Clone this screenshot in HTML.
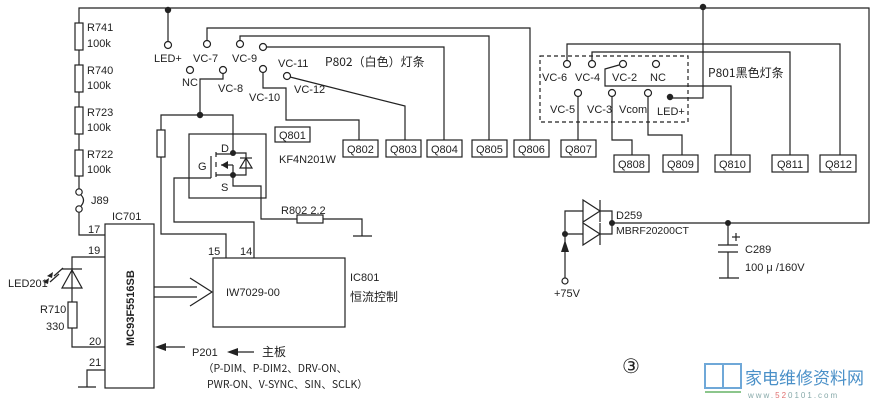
<!DOCTYPE html>
<html><head><meta charset="utf-8"><style>
html,body{margin:0;padding:0;background:#fff}
svg{display:block}
text{font-family:"Liberation Sans","Noto Sans CJK SC",sans-serif;font-size:11px;fill:#222}
.c{font-family:"Noto Sans CJK SC","Liberation Sans",sans-serif}
</style></head><body>
<svg width="875" height="401" viewBox="0 0 875 401" xmlns="http://www.w3.org/2000/svg">
<g fill="none" stroke="#222" stroke-width="1.2">
<polyline points="79,23 79,8 869,8 869,223 612,223"/>
<line x1="168" y1="10" x2="168" y2="41"/>
<rect x="75" y="23" width="8" height="27"/>
<line x1="79" y1="50" x2="79" y2="65"/>
<rect x="75" y="65" width="8" height="27"/>
<line x1="79" y1="92" x2="79" y2="107"/>
<rect x="75" y="107" width="8" height="27"/>
<line x1="79" y1="134" x2="79" y2="150"/>
<rect x="75" y="150" width="8" height="26"/>
<line x1="79" y1="176" x2="79" y2="189"/>
<circle cx="79" cy="192" r="3.2"/><circle cx="79" cy="209" r="3.2"/>
<path d="M81,195 Q86,200 81,206"/>
<polyline points="79,212 79,235 105,235"/>
<rect x="105" y="224" width="49" height="164"/>
<polyline points="105,257 72,257 72,302"/>
<polyline points="72,328 72,347 105,347"/>
<rect x="68" y="302" width="9" height="26"/>
<polygon points="62,288 82,288 72,270"/>
<line x1="62" y1="269" x2="82" y2="269"/>
<polyline points="105,370 87,370 87,387"/>
<line x1="78" y1="387" x2="96" y2="387"/>
<line x1="54" y1="276" x2="63" y2="268"/><line x1="50" y1="282" x2="59" y2="274"/>
<rect x="213" y="258" width="132" height="69"/>
<polyline points="226,258 226,234 161,234 161,157"/>
<rect x="157" y="130" width="8" height="27"/>
<polyline points="161,130 161,115 233,115 233,153"/>
<polyline points="200,115 200,79 223,79 223,74"/>
<polyline points="254,258 254,222 174,222 174,178 211,178"/>
<line x1="154" y1="287" x2="197" y2="287"/><line x1="154" y1="297" x2="197" y2="297"/>
<polyline points="190,278 212,292 190,306"/>
<rect x="189" y="134" width="77" height="64"/>
<line x1="211" y1="156" x2="211" y2="178"/>
<line x1="216" y1="152" x2="216" y2="157"/><line x1="216" y1="162" x2="216" y2="167"/><line x1="216" y1="172" x2="216" y2="177"/>
<line x1="216" y1="154" x2="233" y2="154"/><line x1="216" y1="175" x2="233" y2="175"/>
<line x1="221" y1="165" x2="233" y2="165"/>
<line x1="233" y1="165" x2="233" y2="175"/>
<polyline points="233,153 246,153 246,175 233,175"/>
<polygon points="240,168 252,168 246,158"/><line x1="240" y1="158" x2="252" y2="158"/>
<polyline points="233,175 233,186 261,186 261,219 297,219"/>
<rect x="297" y="215" width="26" height="8"/>
<polyline points="323,219 362,219 362,236"/>
<line x1="353" y1="236" x2="372" y2="236"/>
<circle cx="168" cy="45" r="3.5"/><circle cx="207" cy="44" r="3.5"/><circle cx="240" cy="44" r="3.5"/><circle cx="263" cy="47" r="3.5"/>
<circle cx="190" cy="70" r="3.5"/><circle cx="223" cy="70" r="3.5"/><circle cx="263" cy="69" r="3.5"/><circle cx="287" cy="76" r="3.5"/>
<polyline points="207,40 207,28 530,28 530,140"/>
<polyline points="240,40 240,36 489,36 489,140"/>
<polyline points="267,47 444,47 444,140"/>
<polyline points="263,73 263,88 286,88 286,120 359,120 359,140"/>
<polyline points="290,77 405,106 405,140"/>
<rect x="275" y="127" width="35" height="15"/>
<rect x="343" y="140" width="35" height="17"/><rect x="386" y="140" width="35" height="17"/><rect x="427" y="140" width="35" height="17"/>
<rect x="472" y="140" width="35" height="17"/><rect x="514" y="140" width="35" height="17"/><rect x="561" y="140" width="35" height="17"/>
<rect x="614" y="155" width="35" height="17"/><rect x="663" y="155" width="35" height="17"/><rect x="715" y="155" width="35" height="17"/>
<rect x="772" y="155" width="36" height="17"/><rect x="820" y="155" width="36" height="17"/>
<rect x="540" y="56" width="148" height="66" stroke-dasharray="4,3"/>
<circle cx="567" cy="64" r="3.5"/><circle cx="592" cy="64" r="3.5"/><circle cx="623" cy="64" r="3.5"/><circle cx="656" cy="64" r="3.5"/>
<circle cx="578" cy="93" r="3.5"/><circle cx="612" cy="93" r="3.5"/><circle cx="648" cy="93" r="3.5"/>
<polyline points="567,60 567,44 840,44 840,155"/>
<polyline points="592,60 592,52 790,52 790,155"/>
<polyline points="619,65 605,69 605,86 731,86 731,155"/>
<line x1="578" y1="97" x2="578" y2="140"/>
<polyline points="612,97 612,140 632,140 632,155"/>
<polyline points="648,97 648,135 682,135 682,155"/>
<polyline points="670,98 703,98 703,7"/>
<!-- D259 -->
<polygon points="583,200 583,222 600,211"/><line x1="600" y1="200" x2="600" y2="222"/>
<polygon points="583,223 583,245 600,234"/><line x1="600" y1="223" x2="600" y2="245"/>
<polyline points="583,211 565,211 565,278"/><line x1="565" y1="234" x2="583" y2="234"/>
<polyline points="600,211 612,211 612,234 600,234"/>
<circle cx="565" cy="281" r="3"/>
<line x1="728" y1="223" x2="728" y2="245"/>
<line x1="718" y1="245" x2="738" y2="245"/><line x1="718" y1="252" x2="738" y2="252"/>
<line x1="728" y1="252" x2="728" y2="278"/><line x1="719" y1="278" x2="739" y2="278"/>
<line x1="736" y1="233" x2="736" y2="241"/><line x1="732" y1="237" x2="740" y2="237"/>
<line x1="162" y1="347" x2="185" y2="347"/>
<line x1="235" y1="352" x2="254" y2="352"/>
</g>
<g fill="#222">
<circle cx="168" cy="10" r="3.2"/><circle cx="703" cy="7" r="3.2"/><circle cx="200" cy="115" r="3.2"/>
<circle cx="233" cy="153" r="3"/><circle cx="233" cy="175" r="3"/>
<circle cx="670" cy="97" r="3.2"/><circle cx="612" cy="223" r="3"/><circle cx="565" cy="234" r="3"/><circle cx="728" cy="223" r="3"/>
<polygon points="221,165 228,161 228,169"/>
<polygon points="565,240 561,252 569,252"/>
<polygon points="155,347 166,343 166,351"/>
<polygon points="227,352 238,348 238,356"/>
<polygon points="47,276 53,272 52,278"/><polygon points="43,282 49,278 48,284"/>
</g>
<text x="87" y="31">R741</text><text x="87" y="47">100k</text>
<text x="87" y="74">R740</text><text x="87" y="89">100k</text>
<text x="87" y="116">R723</text><text x="87" y="131">100k</text>
<text x="87" y="158">R722</text><text x="87" y="173">100k</text>
<text x="91" y="204">J89</text>
<text x="112" y="220">IC701</text>
<text x="88" y="233">17</text><text x="88" y="254">19</text><text x="89" y="345">20</text><text x="89" y="366">21</text>
<text x="8" y="287">LED201</text><text x="40" y="313">R710</text><text x="46" y="330">330</text>
<text transform="translate(134,346) rotate(-90)" style="font-weight:bold;font-size:11px">MC93F5516SB</text>
<text x="208" y="255">15</text><text x="240" y="255">14</text>
<text x="226" y="296">IW7029-00</text>
<text x="350" y="281">IC801</text><text x="350" y="301" class="c" style="font-size:12px">恒流控制</text>
<text x="192" y="356">P201</text><text x="262" y="356" class="c" style="font-size:12px">主板</text>
<text x="203" y="372" class="c" style="font-size:10.5px">（P-DIM、P-DIM2、DRV-ON、</text>
<text x="207" y="388" class="c" style="font-size:10.5px">PWR-ON、V-SYNC、SIN、SCLK）</text>
<text x="154" y="62">LED+</text><text x="193" y="62">VC-7</text><text x="232" y="62">VC-9</text>
<text x="182" y="86">NC</text><text x="218" y="92">VC-8</text><text x="278" y="67">VC-11</text><text x="294" y="93">VC-12</text><text x="249" y="101">VC-10</text>
<text x="325" y="66" class="c" style="font-size:12px">P802（白色）灯条</text>
<text x="221" y="152">D</text><text x="198" y="170">G</text><text x="221" y="191">S</text>
<text x="279" y="163">KF4N201W</text>
<text x="281" y="214">R802  2.2</text>
<text x="279" y="139">Q801</text>
<text x="347" y="153">Q802</text><text x="390" y="153">Q803</text><text x="431" y="153">Q804</text><text x="476" y="153">Q805</text><text x="518" y="153">Q806</text><text x="565" y="153">Q807</text>
<text x="618" y="168">Q808</text><text x="667" y="168">Q809</text><text x="719" y="168">Q810</text><text x="777" y="168">Q811</text><text x="825" y="168">Q812</text>
<text x="542" y="81">VC-6</text><text x="575" y="81">VC-4</text><text x="612" y="81">VC-2</text><text x="650" y="81">NC</text>
<text x="550" y="113">VC-5</text><text x="587" y="113">VC-3</text><text x="619" y="113">Vcom</text><text x="657" y="115">LED+</text>
<text x="708" y="77" class="c" style="font-size:12px">P801黑色灯条</text>
<text x="616" y="219">D259</text><text x="616" y="234" style="font-size:10.5px">MBRF20200CT</text>
<text x="554" y="297">+75V</text>
<text x="745" y="253">C289</text><text x="745" y="271">100 μ /160V</text>
<text x="622" y="373" style="font-family:'Liberation Serif',serif;font-size:20px">③</text>
<g fill="none" stroke="#6fa8d8" stroke-width="2"><rect x="705" y="364" width="18" height="24"/><rect x="723" y="364" width="18" height="24"/></g>
<line x1="705" y1="392" x2="741" y2="392" stroke="#8cc68c" stroke-width="2"/>
<text x="745" y="384" class="c" style="font-size:17px;fill:#4a90c8">家电维修资料网</text>
<text x="748" y="398" style="font-size:8px;fill:#8aa;letter-spacing:2px">www.<tspan fill="#e07070">52</tspan>0101.com</text>
</svg>
</body></html>
